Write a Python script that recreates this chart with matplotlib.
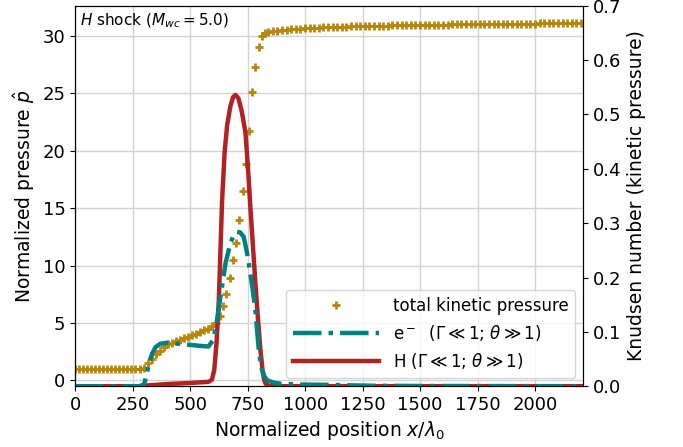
import numpy as np
import matplotlib
matplotlib.use("Agg")
import matplotlib.pyplot as plt

OUT_PATH = "out.png"

# total kinetic pressure (left axis), sampled on the simulation grid
x_pre = np.arange(0, 630, 17.5)
p_pre = [1.0] * 17 + [1.05, 1.5, 1.9, 2.3, 2.6, 2.9, 3.15, 3.3, 3.42, 3.55,
                      3.68, 3.82, 3.95, 4.08, 4.2, 4.35, 4.5, 4.7, 5.0]
x_shock = np.arange(630, 830, 14)
p_shock = [5.6, 6.5, 7.5, 8.9, 10.5, 12.0, 14.0, 16.5, 18.8, 21.7, 25.1,
           27.3, 29.0, 30.0, 30.2]
x_post = np.arange(840, 2220, 20)
p_post = [30.3, 30.38, 30.44, 30.49, 30.53, 30.56, 30.59, 30.62, 30.64,
          30.66, 30.68, 30.70, 30.72, 30.73, 30.75, 30.76, 30.78, 30.79, 30.80,
          30.81, 30.82, 30.83, 30.84, 30.85, 30.86, 30.87, 30.88, 30.89, 30.90,
          30.91, 30.91, 30.92, 30.93, 30.94, 30.94, 30.95, 30.96, 30.96, 30.97,
          30.97, 30.98, 30.98, 30.99, 30.99, 31.00, 31.00, 31.01, 31.01, 31.02,
          31.02, 31.03, 31.03, 31.04, 31.04, 31.05, 31.05, 31.05, 31.06, 31.06,
          31.07, 31.07, 31.07, 31.08, 31.08, 31.08, 31.09, 31.09, 31.10, 31.10]

x_p = np.concatenate([x_pre, x_shock, x_post])
p_tot = np.array(p_pre + p_shock + p_post)

# Knudsen number of the hydrogen (right axis)
x_h = [0, 290, 300, 400, 500, 580, 595, 605, 615, 625, 632, 639, 650, 661,
       675, 687, 697, 710, 725, 741, 752, 762, 773, 784, 795, 806, 815, 822,
       828, 840, 900, 2210]
kn_h = [0.0, 0.0, 0.001, 0.004, 0.006, 0.008, 0.012, 0.03, 0.08, 0.158,
        0.25, 0.34, 0.43, 0.48, 0.515, 0.532, 0.536, 0.53, 0.505, 0.466, 0.40,
        0.33, 0.26, 0.19, 0.125, 0.066, 0.03, 0.012, 0.005, 0.001, 0.0, 0.0]

# Knudsen number of the electrons (right axis)
x_e = [0, 280, 300, 310, 320, 335, 350, 370, 400, 450, 500, 550, 580, 600,
       615, 632, 654, 675, 690, 704, 718, 733, 748, 762, 773, 784, 792, 799,
       806, 813, 825, 835, 860, 893, 950, 1000, 1100, 1200, 1300, 1500, 2210]
kn_e = [0.0, 0.0, 0.003, 0.02, 0.04, 0.06, 0.072, 0.078, 0.080, 0.078,
        0.076, 0.074, 0.073, 0.085, 0.115, 0.165, 0.226, 0.263, 0.278, 0.284,
        0.283, 0.275, 0.245, 0.208, 0.175, 0.140, 0.10, 0.066, 0.045, 0.029,
        0.017, 0.011, 0.007, 0.0045, 0.0035, 0.003, 0.0025, 0.0015, 0.0008,
        0.0004, 0.0]


def main():
    fig, ax1 = plt.subplots(figsize=(6.83, 4.47), dpi=100)
    fig.subplots_adjust(left=0.110, right=0.854, top=0.987, bottom=0.136)
    ax2 = ax1.twinx()

    pts, = ax1.plot(x_p, p_tot, "+", color="darkgoldenrod", ms=6, mew=2,
                    label="total kinetic pressure")
    ln_h, = ax2.plot(x_h, kn_h, "-", color="firebrick", lw=3.2,
                     label=r"H ($\Gamma \ll 1$; $\theta \gg 1$)")
    ln_e, = ax2.plot(x_e, kn_e, "-.", color="teal", lw=3.2,
                     label=r"e$^-$  ($\Gamma \ll 1$; $\theta \gg 1$)")

    ax1.set_xlim(0, 2210)
    ax1.set_ylim(-0.5, 32.6)
    ax2.set_ylim(0, 0.7)
    ax1.grid(True, color="lightgray", lw=1)

    ax1.set_xlabel(r"Normalized position $x/\lambda_0$", fontsize=13.5)
    ax1.set_ylabel(r"Normalized pressure $\hat{p}$", fontsize=13.5)
    ax2.set_ylabel("Knudsen number (kinetic pressure)", fontsize=13.5)
    ax1.tick_params(labelsize=13)
    ax2.tick_params(labelsize=13)

    ax1.text(0.01, 0.985, r"$H$ shock ($M_{wc} = 5.0$)", transform=ax1.transAxes,
             ha="left", va="top", fontsize=11)

    ax2.legend([pts, ln_e, ln_h], [pts.get_label(), ln_e.get_label(), ln_h.get_label()],
               loc="lower right", fontsize=12, handlelength=5.2)

    plt.savefig(OUT_PATH, dpi=100)
    plt.close()
    print(f"Saved chart to {OUT_PATH}")


if __name__ == "__main__":
    main()
